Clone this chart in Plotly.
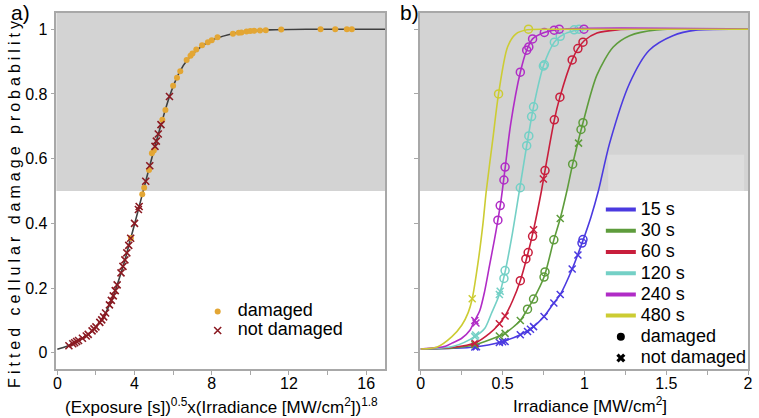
import plotly.graph_objects as go

FONT = "Liberation Sans, Arial, sans-serif"

# ---------------- Panel a data ----------------
a_curve_x = [0, 0.5, 1.0, 1.5, 2.0, 2.36, 2.7, 2.96, 3.3, 3.55, 3.76, 3.9, 4.1, 4.27, 4.44,
             4.58, 4.79, 5.09, 5.35, 5.81, 6.29, 6.8, 7.32, 8.0, 8.86, 9.7, 11.0, 13.0, 17.0]
a_curve_y = [0.011, 0.02, 0.035, 0.052, 0.08, 0.107, 0.148, 0.185, 0.247, 0.297, 0.345, 0.375,
             0.42, 0.459, 0.498, 0.53, 0.578, 0.645, 0.70, 0.792, 0.863, 0.91, 0.94, 0.966,
             0.983, 0.992, 0.998, 1.0, 1.0]

a_dam_x = [3.81, 4.4, 4.5, 4.75, 4.9, 5.0, 5.44, 5.6, 6.0, 6.2, 6.37, 6.7, 6.9, 7.0, 7.2,
           7.5, 7.8, 8.0, 8.3, 9.1, 9.4, 9.54, 9.8, 10.0, 10.2, 10.5, 10.8, 11.6, 13.64,
           14.4, 15.0, 15.26]
a_dam_y = [0.355, 0.49, 0.51, 0.565, 0.617, 0.625, 0.72, 0.75, 0.825, 0.85, 0.87, 0.905,
           0.918, 0.925, 0.937, 0.95, 0.96, 0.966, 0.975, 0.986, 0.989, 0.99, 0.993, 0.994,
           0.995, 0.996, 0.997, 0.999, 1.0, 1.0, 1.0, 1.0]

a_nd_x = [0.6, 0.8, 0.9, 1.0, 1.1, 1.3, 1.5, 1.6, 1.8, 1.9, 2.0, 2.2, 2.3, 2.4, 2.5, 2.7,
          2.8, 2.9, 3.0, 3.1, 3.3, 3.4, 3.5, 3.6, 3.7, 3.8, 4.0, 4.2, 4.24, 4.58, 4.79,
          5.06, 5.13, 5.23, 5.37, 5.81]
a_nd_y = [0.022, 0.028, 0.031, 0.035, 0.038, 0.045, 0.052, 0.057, 0.068, 0.074, 0.08,
          0.094, 0.102, 0.111, 0.123, 0.148, 0.162, 0.176, 0.192, 0.21, 0.247, 0.267,
          0.287, 0.309, 0.332, 0.354, 0.40, 0.443, 0.452, 0.53, 0.578, 0.638, 0.654,
          0.676, 0.705, 0.792]

a_xtick_vals = [0, 4, 8, 12, 16]
a_xtick_text = ["0", "4", "8", "12", "16"]
a_xminor_vals = [2, 6, 10, 14]
y_tick_vals = [0, 0.2, 0.4, 0.6, 0.8, 1.0]
y_tick_text = ["0", "0.2", "0.4", "0.6", "0.8", "1"]

# ---------------- Panel b data ----------------
series_labels = ["15 s", "30 s", "60 s", "120 s", "240 s", "480 s"]

curve_x_15 = [0, 0.2, 0.33, 0.48, 0.608, 0.689, 0.753, 0.813, 0.852, 0.925, 0.985, 1.04,
              1.085, 1.154, 1.276, 1.396, 1.54, 1.68, 2.0]
curve_y_15 = [0.012, 0.014, 0.018, 0.032, 0.056, 0.081, 0.112, 0.154, 0.18, 0.259, 0.339,
              0.42, 0.5, 0.648, 0.833, 0.935, 0.98, 0.997, 1.0]
curve_x_30 = [0, 0.2, 0.33, 0.48, 0.515, 0.608, 0.652, 0.689, 0.753, 0.813, 0.852, 0.894,
              0.928, 0.991, 1.076, 1.176, 1.276, 1.44, 2.0]
curve_y_30 = [0.012, 0.015, 0.025, 0.052, 0.06, 0.10, 0.135, 0.166, 0.234, 0.349, 0.415,
              0.503, 0.583, 0.711, 0.858, 0.945, 0.98, 0.998, 1.0]
curve_x_60 = [0, 0.2, 0.33, 0.42, 0.48, 0.515, 0.56, 0.608, 0.656, 0.689, 0.737, 0.759,
              0.816, 0.85, 0.925, 0.96, 1.0, 1.076, 1.2, 2.0]
curve_y_60 = [0.012, 0.017, 0.03, 0.06, 0.09, 0.114, 0.16, 0.223, 0.31, 0.38, 0.5, 0.563,
              0.72, 0.79, 0.905, 0.94, 0.965, 0.988, 0.998, 1.0]
curve_x_120 = [0, 0.2, 0.33, 0.39, 0.43, 0.48, 0.515, 0.56, 0.602, 0.647, 0.689, 0.749,
               0.816, 0.852, 0.94, 1.1, 2.0]
curve_y_120 = [0.012, 0.02, 0.05, 0.075, 0.12, 0.18, 0.25, 0.37, 0.5, 0.64, 0.76, 0.886,
               0.96, 0.978, 0.996, 1.0, 1.0]
curve_x_240 = [0, 0.15, 0.19, 0.25, 0.3, 0.33, 0.36, 0.39, 0.42, 0.45, 0.471, 0.49, 0.515,
               0.55, 0.608, 0.647, 0.683, 0.755, 0.87, 2.0]
curve_y_240 = [0.012, 0.02, 0.03, 0.045, 0.07, 0.1, 0.13, 0.19, 0.27, 0.35, 0.41, 0.47,
               0.57, 0.71, 0.867, 0.935, 0.97, 0.99, 1.0, 1.0]
curve_x_480 = [0, 0.1, 0.19, 0.25, 0.29, 0.314, 0.35, 0.38, 0.4, 0.44, 0.475, 0.53, 0.58,
               0.65, 0.8, 2.0]
curve_y_480 = [0.012, 0.018, 0.05, 0.085, 0.125, 0.167, 0.28, 0.4, 0.5, 0.66, 0.8, 0.945,
               0.985, 0.998, 1.0, 1.0]

dam_x_15 = [0.985, 0.991]
dam_y_15 = [0.339, 0.35]
nd_x_15 = [0.33, 0.34, 0.48, 0.5, 0.515, 0.608, 0.652, 0.67, 0.689, 0.753, 0.813, 0.852,
           0.925, 0.96]
nd_y_15 = [0.018, 0.019, 0.032, 0.034, 0.035, 0.056, 0.066, 0.073, 0.081, 0.112, 0.154,
           0.18, 0.259, 0.302]

dam_x_30 = [0.652, 0.689, 0.753, 0.759, 0.813, 0.928, 0.979, 0.991]
dam_y_30 = [0.135, 0.166, 0.234, 0.25, 0.349, 0.583, 0.69, 0.711]
nd_x_30 = [0.33, 0.48, 0.515, 0.608, 0.852, 0.964]
nd_y_30 = [0.025, 0.052, 0.06, 0.10, 0.415, 0.648]

dam_x_60 = [0.608, 0.642, 0.656, 0.683, 0.759, 0.816, 0.85, 0.925, 0.96, 0.991]
dam_y_60 = [0.223, 0.29, 0.31, 0.36, 0.563, 0.72, 0.79, 0.905, 0.94, 0.96]
nd_x_60 = [0.33, 0.48, 0.515, 0.689, 0.749]
nd_y_60 = [0.03, 0.09, 0.114, 0.38, 0.537]

dam_x_120 = [0.508, 0.515, 0.608, 0.647, 0.66, 0.677, 0.689, 0.749, 0.755, 0.816, 0.852,
             0.937, 0.967]
dam_y_120 = [0.23, 0.254, 0.51, 0.64, 0.67, 0.73, 0.76, 0.886, 0.89, 0.96, 0.978, 0.998, 1.0]
nd_x_120 = [0.33, 0.335, 0.48, 0.485]
nd_y_120 = [0.05, 0.055, 0.18, 0.19]

dam_x_240 = [0.471, 0.485, 0.508, 0.515, 0.608, 0.647, 0.66, 0.683, 0.755, 0.815, 0.846,
             0.997]
dam_y_240 = [0.41, 0.455, 0.534, 0.574, 0.867, 0.935, 0.945, 0.97, 0.99, 0.997, 1.0, 1.0]
nd_x_240 = [0.33, 0.337]
nd_y_240 = [0.1, 0.092]

dam_x_480 = [0.475, 0.658]
dam_y_480 = [0.8, 1.0]
nd_x_480 = [0.314]
nd_y_480 = [0.167]

b_xtick_vals = [0, 0.5, 1.0, 1.5, 2.0]
b_xtick_text = ["0", "0.5", "1", "1.5", "2"]
b_xminor_vals = [0.25, 0.75, 1.25, 1.75]

# ---------------- styles ----------------
series_colors = ["#4b3ae0", "#5e9c3c", "#c81e3c", "#74d0c6", "#b02cc6", "#cccc33"]
curves_x = [curve_x_15, curve_x_30, curve_x_60, curve_x_120, curve_x_240, curve_x_480]
curves_y = [curve_y_15, curve_y_30, curve_y_60, curve_y_120, curve_y_240, curve_y_480]
dams_x = [dam_x_15, dam_x_30, dam_x_60, dam_x_120, dam_x_240, dam_x_480]
dams_y = [dam_y_15, dam_y_30, dam_y_60, dam_y_120, dam_y_240, dam_y_480]
nds_x = [nd_x_15, nd_x_30, nd_x_60, nd_x_120, nd_x_240, nd_x_480]
nds_y = [nd_y_15, nd_y_30, nd_y_60, nd_y_120, nd_y_240, nd_y_480]

ORANGE = "#e3a634"
DARKRED = "#8b1a22"
AXIS = "#a8a8a8"
GRAY = "#d3d3d3"

fig = go.Figure()

# Panel a
fig.add_trace(go.Scatter(x=a_curve_x, y=a_curve_y, mode="lines",
                         line=dict(color="#404040", width=1.6, shape="spline", smoothing=0.8),
                         xaxis="x", yaxis="y", showlegend=False, hoverinfo="skip"))
fig.add_trace(go.Scatter(x=a_dam_x, y=a_dam_y, mode="markers", name="<span style='font-size:18px'>damaged</span>",
                         marker=dict(symbol="circle", size=6, color=ORANGE), xaxis="x", yaxis="y", legend="legend"))
fig.add_trace(go.Scatter(x=a_nd_x, y=a_nd_y, mode="markers", name="<span style='font-size:18px'>not damaged</span>",
                         marker=dict(symbol="x-thin-open", size=7, line=dict(color=DARKRED, width=1.6), color=DARKRED),
                         xaxis="x", yaxis="y", legend="legend"))

# Panel b curves and markers
for i in range(len(series_labels)):
    c = series_colors[i]
    fig.add_trace(go.Scatter(x=curves_x[i], y=curves_y[i], mode="lines",
                             line=dict(color=c, width=1.6, shape="spline", smoothing=0.8),
                             xaxis="x2", yaxis="y2", showlegend=False, hoverinfo="skip"))
    fig.add_trace(go.Scatter(x=dams_x[i], y=dams_y[i], mode="markers",
                             marker=dict(symbol="circle-open", size=8, line=dict(color=c, width=1.5), color=c),
                             xaxis="x2", yaxis="y2", showlegend=False))
    fig.add_trace(go.Scatter(x=nds_x[i], y=nds_y[i], mode="markers",
                             marker=dict(symbol="x-thin-open", size=7, line=dict(color=c, width=1.5), color=c),
                             xaxis="x2", yaxis="y2", showlegend=False))

# Panel b legend entries
for i in range(len(series_labels)):
    fig.add_trace(go.Scatter(x=[None], y=[None], mode="lines",
                             name=f"<span style='font-size:18px'>{series_labels[i]}</span>",
                             line=dict(color=series_colors[i], width=4), xaxis="x2", yaxis="y2", legend="legend2"))
fig.add_trace(go.Scatter(x=[None], y=[None], mode="markers", name="<span style='font-size:18px'>damaged</span>",
                         marker=dict(symbol="circle", size=8, color="black"), xaxis="x2", yaxis="y2", legend="legend2"))
fig.add_trace(go.Scatter(x=[None], y=[None], mode="markers", name="<span style='font-size:18px'>not damaged</span>",
                         marker=dict(symbol="x", size=8, color="black"), xaxis="x2", yaxis="y2", legend="legend2"))

W, H = 759, 418
def px(xp):
    return xp / W
def py(yp):
    return 1 - yp / H

axis_common = dict(showline=True, mirror=True, linecolor=AXIS, linewidth=1.5, ticks="outside",
                   ticklen=4, tickcolor=AXIS, showgrid=False, zeroline=False,
                   tickfont=dict(family=FONT, size=16, color="black"))

def ann(text, x, y, size, **kw):
    return dict(text=text, x=px(x), y=py(y), xref="paper", yref="paper", showarrow=False,
                xanchor="center", yanchor="middle", font=dict(family=FONT, size=size, color="black"), **kw)

fig.update_layout(
    width=W, height=H, margin=dict(l=0, r=0, t=0, b=0),
    paper_bgcolor="white", plot_bgcolor="white",
    font=dict(family=FONT, color="black"),
    xaxis=dict(domain=[px(53), px(386)], range=[-0.05, 17], tickvals=a_xtick_vals, ticktext=a_xtick_text,
               minor=dict(tickvals=a_xminor_vals, ticks="outside", ticklen=4, tickcolor=AXIS, showgrid=False),
               ticklabelstandoff=-5, anchor="y", **axis_common),
    yaxis=dict(domain=[py(369), py(13)], range=[-0.05, 1.05], tickvals=y_tick_vals, ticktext=y_tick_text,
               anchor="x", **axis_common),
    xaxis2=dict(domain=[px(421), px(753)], range=[-0.005, 2.0], tickvals=b_xtick_vals, ticktext=b_xtick_text,
                minor=dict(tickvals=b_xminor_vals, ticks="outside", ticklen=4, tickcolor=AXIS, showgrid=False),
                ticklabelstandoff=-5, anchor="y2", **axis_common),
    yaxis2=dict(domain=[py(369), py(13)], range=[-0.05, 1.05], tickvals=y_tick_vals,
                showticklabels=False, anchor="x2", **axis_common),
    legend=dict(x=px(196), y=py(297), xanchor="left", yanchor="top", bgcolor="rgba(0,0,0,0)",
                font=dict(family=FONT, size=12, color="black"), itemsizing="trace", tracegroupgap=0),
    legend2=dict(x=px(604), y=py(194), xanchor="left", yanchor="top", bgcolor="rgba(0,0,0,0)",
                 font=dict(family=FONT, size=14, color="black"), itemsizing="trace", tracegroupgap=0),
    shapes=[
        dict(type="rect", xref="x domain", yref="y", x0=0, x1=1, y0=0.5, y1=1.05, fillcolor=GRAY,
             line=dict(width=0), layer="below"),
        dict(type="rect", xref="x2 domain", yref="y2", x0=0, x1=1, y0=0.5, y1=1.05, fillcolor=GRAY,
             line=dict(width=0), layer="below"),
        dict(type="rect", xref="x2", yref="y2", x0=1.145, x1=1.976, y0=0.5, y1=0.612, fillcolor="#dddddd",
             line=dict(width=0), layer="below"),
    ],
    annotations=[
        ann("a)", 17, 13, 21),
        ann("b)", 410, 13, 21),
        ann("<span style='letter-spacing:4px'>Fitted cellular damage probability</span>", 10, 202, 16,
            textangle=-90),
        ann("(Exposure [s])<sup>0.5</sup>x(Irradiance [MW/cm<sup>2</sup>])<sup>1.8</sup>", 220, 406, 17),
        ann("Irradiance [MW/cm<sup>2</sup>]", 593, 405, 17),
    ],
)

fig.write_html("out.html", config={"displayModeBar": False},
               post_script="document.body.style.margin='0';document.body.style.padding='0';")
